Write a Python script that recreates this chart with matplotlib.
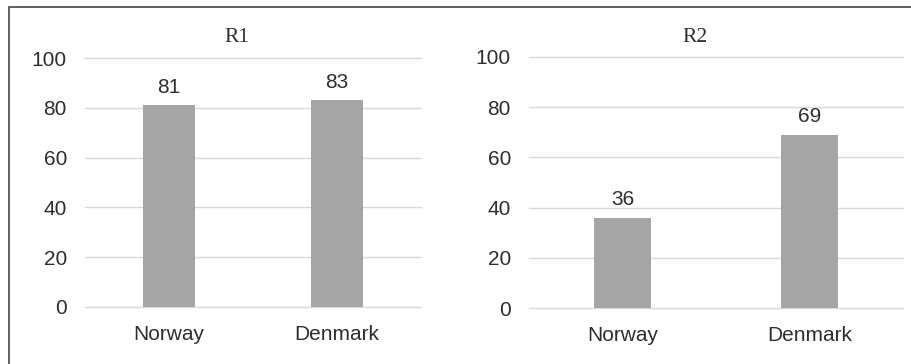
import matplotlib
matplotlib.use("Agg")
import matplotlib.pyplot as plt
from matplotlib.patches import Rectangle

categories = ["Norway", "Denmark"]
r1_values = [81, 83]
r2_values = [36, 69]
panel_titles = ["R1", "R2"]
yticks = [0, 20, 40, 60, 80, 100]

W, H = 912, 364
fig = plt.figure(figsize=(W / 100, H / 100), dpi=100)
fig.patch.set_facecolor("white")

# outer border (only top and left visible in reference)
fig.add_artist(Rectangle((9 / W, -0.1), 1.2, 1 - 6.5 / H + 0.1, transform=fig.transFigure,
                         fill=False, edgecolor="#555555", linewidth=1.3))

sans = "Liberation Sans"
serif = "Liberation Serif"
txt = "#2e2e2e"
fs = 15

panels = [
    (r1_values, [85 / W, 57 / H, 336 / W, 249 / H], 237),
    (r2_values, [529 / W, 56 / H, 374 / W, 251 / H], 695),
]

for (vals, rect, tx), title in zip(panels, panel_titles):
    ax = fig.add_axes(rect)
    ax.set_xlim(-0.5, 1.5)
    ax.set_ylim(0, 100)
    for s in ax.spines.values():
        s.set_visible(False)
    for t in yticks:
        ax.axhline(t, color="#d9d9d9", linewidth=1.0, zorder=0, clip_on=False)
    x = list(range(len(categories)))
    ax.bar(x, vals, width=0.31, color="#a5a5a5", zorder=2)
    for xi, v in zip(x, vals):
        ax.annotate(str(v), (xi, v), xytext=(0, 9), textcoords="offset points",
                    ha="center", va="baseline", fontsize=fs, family=sans, color=txt)
    ax.set_xticks(x)
    ax.set_xticklabels(categories, fontsize=fs, family=sans, color=txt)
    ax.set_yticks(yticks)
    ax.set_yticklabels([str(t) for t in yticks], fontsize=fs, family=sans, color=txt)
    ax.tick_params(axis="both", length=0)
    ax.tick_params(axis="y", pad=13)
    ax.tick_params(axis="x", pad=13)
    fig.text(tx / W, 1 - 37 / H, title, ha="center", va="center",
             fontsize=15.5, family=serif, color=txt)

fig.savefig("out.png", dpi=100)
